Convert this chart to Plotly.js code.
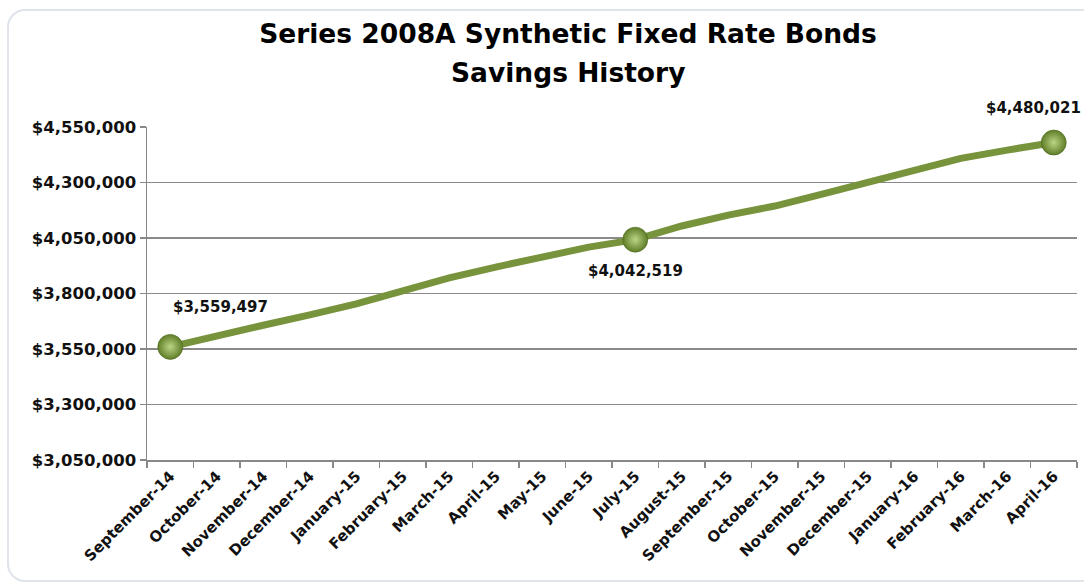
<!DOCTYPE html>
<html>
<head>
<meta charset="utf-8">
<script src="https://cdn.plot.ly/plotly-3.0.1.min.js"></script>
<style>
  html, body { margin: 0; padding: 0; background: #ffffff; overflow: hidden; }
  #frame {
    position: absolute; left: 7px; top: 9px; width: 1120px; height: 573px;
    border: 2px solid #dfe3ea; border-radius: 18px; box-sizing: border-box;
  }
  #chart { position: absolute; left: 0; top: 0; width: 1084px; height: 585px; }
</style>
</head>
<body>
<div id="frame"></div>
<div id="chart"></div>
<script>
// Monthly cumulative savings, September 2014 through April 2016
const months = [
  'September-14', 'October-14', 'November-14', 'December-14', 'January-15',
  'February-15', 'March-15', 'April-15', 'May-15', 'June-15', 'July-15',
  'August-15', 'September-15', 'October-15', 'November-15', 'December-15',
  'January-16', 'February-16', 'March-16', 'April-16'
];
const savings = [
  3559497, 3611000, 3657000, 3704000, 3753000,
  3812000, 3870000, 3919000, 3967000, 4009000, 4042519,
  4104000, 4153000, 4194000, 4247000, 4301000,
  4355000, 4409000, 4446000, 4480021
];
const titleLines = ['Series 2008A Synthetic Fixed Rate Bonds', 'Savings History'];
// Months that get a sphere marker and a value label
const labelled = [0, 10, 19];
const labelShift = { 0: [50, 40], 10: [0, -31], 19: [-20, 35] };

const fontFamily = '"DejaVu Sans", "Noto Sans", sans-serif';
const green = '#77933C';

const fmt = v => '$' + v.toLocaleString('en-US');

const lineTrace = {
  type: 'scatter', mode: 'lines',
  x: months, y: savings,
  line: { color: green, width: 7 },
  hoverinfo: 'skip'
};

const markerTrace = {
  type: 'scatter', mode: 'markers',
  x: labelled.map(i => months[i]),
  y: labelled.map(i => savings[i]),
  marker: {
    size: 25,
    color: '#5f7d27',
    gradient: { type: 'radial', color: '#bcd586' },
    line: { color: '#4f6a20', width: 0.6 }
  },
  hoverinfo: 'skip'
};

const annotations = labelled.map(i => ({
  x: months[i], y: savings[i], xref: 'x', yref: 'y',
  text: fmt(savings[i]), showarrow: false,
  xshift: labelShift[i][0], yshift: labelShift[i][1],
  font: { family: fontFamily, size: 15, color: '#111111', weight: 'bold' }
}));

// Second title line sits below the main title
annotations.push({
  xref: 'paper', yref: 'paper', x: (568 - 147) / 930, y: 1 + (127 - 73) / 333,
  xanchor: 'center', yanchor: 'middle', showarrow: false,
  text: titleLines[1],
  font: { family: fontFamily, size: 26.5, color: '#000000', weight: 'bold' }
});

const layout = {
  width: 1084, height: 585,
  paper_bgcolor: 'rgba(0,0,0,0)', plot_bgcolor: 'rgba(0,0,0,0)',
  margin: { l: 147, r: 7, t: 127, b: 125 },
  showlegend: false,
  title: {
    text: titleLines[0],
    font: { family: fontFamily, size: 26.5, color: '#000000', weight: 'bold' },
    x: 568 / 1084, xanchor: 'center', y: 1 - 34 / 585, yanchor: 'middle'
  },
  xaxis: {
    type: 'category', categoryorder: 'array', categoryarray: months,
    range: [-0.5, months.length - 0.5], autorange: false,
    tickson: 'boundaries', ticks: 'outside', ticklen: 6, tickwidth: 1.5,
    tickcolor: '#888888', showline: true, linecolor: '#888888', linewidth: 1.5,
    showgrid: false, tickangle: -45, automargin: false,
    tickfont: { family: fontFamily, size: 15, color: '#111111', weight: 'bold' }
  },
  yaxis: {
    range: [3050000, 4550000], tick0: 3050000, dtick: 250000,
    tickprefix: '$', tickformat: ',d', automargin: false,
    ticks: 'outside', ticklen: 6, tickwidth: 1.5, tickcolor: '#888888',
    showline: true, linecolor: '#888888', linewidth: 1.5,
    showgrid: true, gridcolor: '#8a8a8a', gridwidth: 1.5, zeroline: false,
    tickfont: { family: fontFamily, size: 16.5, color: '#111111', weight: 'bold' }
  },
  annotations: annotations
};

Plotly.newPlot('chart', [lineTrace, markerTrace], layout, { staticPlot: true });
</script>
</body>
</html>
